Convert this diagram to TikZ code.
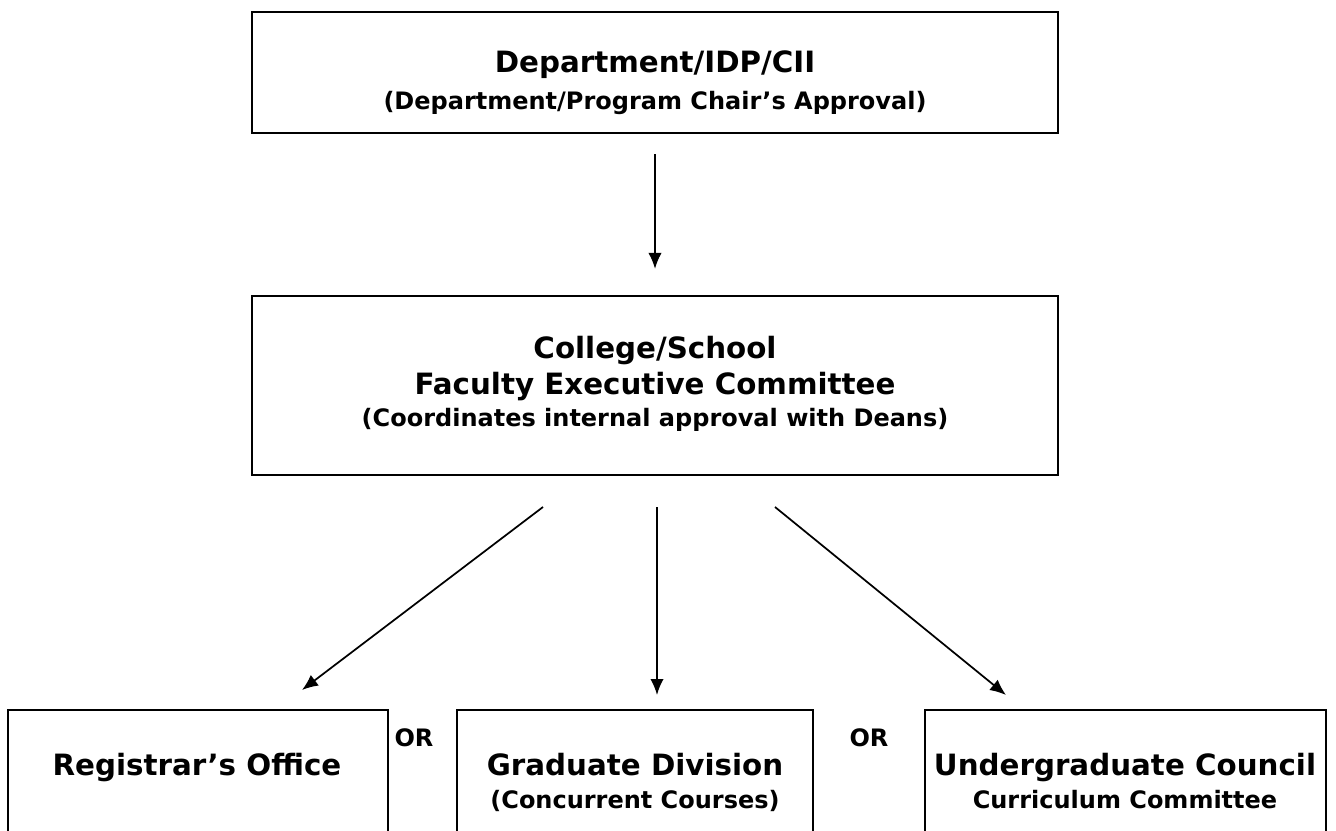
\documentclass[tikz,border=0pt]{standalone}
\usepackage{fontspec}
\setmainfont{DejaVu Sans}
\usetikzlibrary{arrows.meta}
\tikzset{
  box/.style={draw, line width=1.6pt, inner sep=0pt},
  arr/.style={-{Latex[length=12pt,width=10pt]}, line width=1.3pt},
  head/.style={anchor=base, inner sep=0pt, font=\bfseries\fontsize{22}{26}\selectfont},
  sub/.style={anchor=base, inner sep=0pt, font=\bfseries\fontsize{18}{22}\selectfont},
}
\begin{document}
\begin{tikzpicture}[x=0.75pt,y=-0.75pt]
\clip (0,0) rectangle (1336,831);
\fill[white] (0,0) rectangle (1336,831);
% boxes
\node[box, minimum width=604.5pt, minimum height=90.75pt] (dept) at (655,72.5) {};
\node[box, minimum width=604.5pt, minimum height=134.25pt] (fec) at (655,385.5) {};
\node[box, minimum width=285pt, minimum height=150pt] (reg) at (198,810) {};
\node[box, minimum width=267pt, minimum height=150pt] (grad) at (635,810) {};
\node[box, minimum width=300.75pt, minimum height=150pt] (ugc) at (1125.5,810) {};
% texts (placed on their baselines)
\node[head] (deptA) at (655,73) {Department/IDP/CII};
\node[sub] (deptB) at (655,110) {(Department/Program Chair’s Approval)};
\node[head] (fecA) at (655,358) {College/School};
\node[head] (fecB) at (655,394) {Faculty Executive Committee};
\node[sub] (fecC) at (655,426) {(Coordinates internal approval with Deans)};
\node[head] (regA) at (197,775) {Registrar’s Office};
\node[sub] (or1) at (414,746) {OR};
\node[head] (gradA) at (635,775) {Graduate Division};
\node[sub] (gradB) at (635,808) {(Concurrent Courses)};
\node[sub] (or2) at (869,746) {OR};
\node[head] (ugcA) at (1125,775) {Undergraduate Council};
\node[sub] (ugcB) at (1125,808) {Curriculum Committee};
% arrows
\coordinate (l0) at (543,507);
\coordinate (l1) at (302,690);
\coordinate (c0) at (657,507);
\coordinate (c1) at (657,695);
\coordinate (r0) at (775,507);
\coordinate (r1) at (1006,695);
\draw[arr, shorten <=15pt, shorten >=19.5pt] (dept.south) -- (fec.north);
\draw[arr] (l0) -- (l1);
\draw[arr] (c0) -- (c1);
\draw[arr] (r0) -- (r1);
\end{tikzpicture}
\end{document}
